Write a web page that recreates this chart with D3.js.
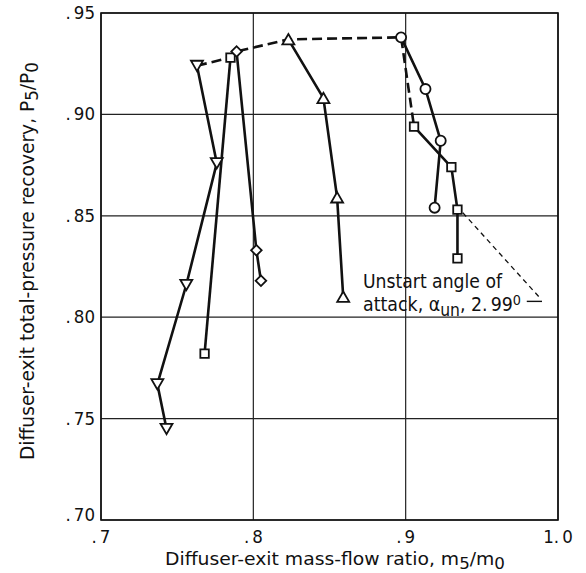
<!DOCTYPE html>
<html>
<head>
<meta charset="utf-8">
<script src="https://cdn.jsdelivr.net/npm/d3@7"></script>
<style>
  html, body { margin: 0; padding: 0; background: #fff; }
  svg text { font-family: "DejaVu Sans Condensed", "Liberation Sans Narrow", "DejaVu Sans", sans-serif; fill: #111; }
</style>
</head>
<body>
<svg id="chart" width="586" height="573"></svg>
<script>
// ---------------- DATA ----------------
const xTicks = [0.7, 0.8, 0.9, 1.0];
const xTickLabels = [".7", ".8", ".9", "1.0"];
const yTicks = [0.70, 0.75, 0.80, 0.85, 0.90, 0.95];
const yTickLabels = [".70", ".75", ".80", ".85", ".90", ".95"];

// series: mass-flow ratio (x) and pressure recovery (y)
const triDownX = [0.763, 0.776, 0.756, 0.737, 0.743];
const triDownY = [0.924, 0.876, 0.816, 0.767, 0.745];

const squareAX = [0.785, 0.768];
const squareAY = [0.928, 0.782];

const diamondX = [0.789, 0.802, 0.805];
const diamondY = [0.931, 0.833, 0.818];

const triUpX = [0.823, 0.846, 0.855, 0.859];
const triUpY = [0.937, 0.908, 0.859, 0.810];

const circleX = [0.897, 0.913, 0.923, 0.919];
const circleY = [0.938, 0.9125, 0.887, 0.854];

const squareBX = [0.9055, 0.930, 0.934, 0.934];
const squareBY = [0.894, 0.874, 0.853, 0.829];

// dashed envelope through the peaks
const envelopeX = [0.763, 0.785, 0.789, 0.823, 0.897, 0.9055];
const envelopeY = [0.924, 0.928, 0.931, 0.937, 0.938, 0.894];

// ---------------- LAYOUT ----------------
const svg = d3.select("#chart");
const x = d3.scaleLinear().domain([0.7, 1.0]).range([101, 558]);
const y = d3.scaleLinear().domain([0.70, 0.95]).range([520, 13]);

const zip = (xs, ys) => xs.map((v, i) => [v, ys[i]]);
const line = d3.line().x(d => x(d[0])).y(d => y(d[1]));

// grid
const g = svg.append("g");
g.selectAll("line.vg").data(xTicks).enter().append("line")
  .attr("x1", d => x(d)).attr("x2", d => x(d))
  .attr("y1", y(0.70)).attr("y2", y(0.95))
  .attr("stroke", "#222").attr("stroke-width", 1.2);
g.selectAll("line.hg").data(yTicks).enter().append("line")
  .attr("x1", x(0.7)).attr("x2", x(1.0))
  .attr("y1", d => y(d)).attr("y2", d => y(d))
  .attr("stroke", "#222").attr("stroke-width", 1.2);
// frame
g.append("rect")
  .attr("x", x(0.7)).attr("y", y(0.95))
  .attr("width", x(1.0) - x(0.7)).attr("height", y(0.70) - y(0.95))
  .attr("fill", "none").attr("stroke", "#111").attr("stroke-width", 1.6);

// tick labels (period separated as in the original typesetting)
function dotLabel(sel, s) {
  const i = s.indexOf(".");
  sel.append("tspan").text(s.slice(0, i + 1));
  sel.append("tspan").attr("dx", 3).text(s.slice(i + 1));
}
yTicks.forEach((t, i) => {
  const tx = svg.append("text")
    .attr("x", x(0.7) - 6).attr("y", y(t) + (i === 0 ? 1 : 6))
    .attr("text-anchor", "end").attr("font-size", 18.5);
  dotLabel(tx, yTickLabels[i]);
});
xTicks.forEach((t, i) => {
  const tx = svg.append("text")
    .attr("x", x(t)).attr("y", y(0.70) + 23)
    .attr("text-anchor", "middle").attr("font-size", 18.5);
  dotLabel(tx, xTickLabels[i]);
});

// axis titles
const xt = svg.append("text")
  .attr("x", 165).attr("y", 565)
  .attr("textLength", 340).attr("lengthAdjust", "spacingAndGlyphs")
  .attr("font-size", 18);
xt.append("tspan").text("Diffuser-exit mass-flow ratio,  m");
xt.append("tspan").attr("baseline-shift", "-25%").attr("font-size", 16).text("5");
xt.append("tspan").text("/m");
xt.append("tspan").attr("baseline-shift", "-25%").attr("font-size", 16).text("0");

const yt = svg.append("text")
  .attr("transform", `translate(34,460) rotate(-90)`)
  .attr("textLength", 398).attr("lengthAdjust", "spacingAndGlyphs")
  .attr("font-size", 19);
yt.append("tspan").text("Diffuser-exit total-pressure recovery,  P");
yt.append("tspan").attr("baseline-shift", "-25%").attr("font-size", 17).text("5");
yt.append("tspan").text("/P");
yt.append("tspan").attr("baseline-shift", "-25%").attr("font-size", 17).text("0");

// annotation leader
svg.append("line")
  .attr("x1", x(0.9375)).attr("y1", y(0.8515))
  .attr("x2", x(0.989)).attr("y2", y(0.8088))
  .attr("stroke", "#111").attr("stroke-width", 1.3).attr("stroke-dasharray", "5,4");
svg.append("line")
  .attr("x1", x(0.9795)).attr("y1", y(0.8078))
  .attr("x2", x(0.9895)).attr("y2", y(0.8078))
  .attr("stroke", "#111").attr("stroke-width", 1.4);
const a1 = svg.append("text").attr("x", 363).attr("y", y(0.8143))
  .attr("textLength", 139).attr("lengthAdjust", "spacingAndGlyphs")
  .attr("font-size", 19);
a1.text("Unstart angle of");
const a2 = svg.append("text").attr("x", 363).attr("y", y(0.8030))
  .attr("textLength", 158).attr("lengthAdjust", "spacingAndGlyphs")
  .attr("font-size", 19);
a2.append("tspan").text("attack,  α");
a2.append("tspan").attr("baseline-shift", "-30%").attr("font-size", 17).text("un");
a2.append("tspan").text(",  2.");
a2.append("tspan").attr("dx", 3).text("99");
a2.append("tspan").attr("baseline-shift", "40%").attr("font-size", 14).text("0");

// dashed envelope
svg.append("path").datum(zip(envelopeX, envelopeY))
  .attr("d", line).attr("fill", "none")
  .attr("stroke", "#111").attr("stroke-width", 2.6).attr("stroke-dasharray", "10,5");

// series
const series = [
  { xs: triDownX, ys: triDownY, type: d3.symbolTriangle, size: 62, rot: 180, dy: -1.5 },
  { xs: squareAX, ys: squareAY, type: d3.symbolSquare, size: 72, rot: 0, dy: 0 },
  { xs: diamondX, ys: diamondY, type: d3.symbolSquare, size: 56, rot: 45, dy: 0 },
  { xs: triUpX, ys: triUpY, type: d3.symbolTriangle, size: 62, rot: 0, dy: 1.5 },
  { xs: circleX, ys: circleY, type: d3.symbolCircle, size: 80, rot: 0, dy: 0 },
  { xs: squareBX, ys: squareBY, type: d3.symbolSquare, size: 72, rot: 0, dy: 0 }
];
series.forEach(s => {
  svg.append("path").datum(zip(s.xs, s.ys))
    .attr("d", line).attr("fill", "none")
    .attr("stroke", "#111").attr("stroke-width", 2.6).attr("stroke-linejoin", "round");
});
series.forEach(s => {
  const sym = d3.symbol().type(s.type).size(s.size);
  svg.append("g").selectAll("path").data(zip(s.xs, s.ys)).enter().append("path")
    .attr("d", sym)
    .attr("transform", d => `translate(${x(d[0])},${y(d[1]) + s.dy}) rotate(${s.rot})`)
    .attr("fill", "#fff").attr("stroke", "#111").attr("stroke-width", 1.8);
});
</script>
</body>
</html>
